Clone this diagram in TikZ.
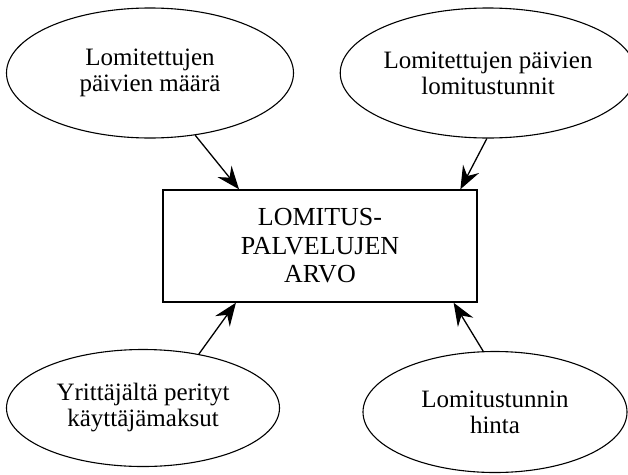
\documentclass[tikz,border=0pt]{standalone}
\usepackage{fontspec}
\setmainfont{Liberation Serif}
\usepackage{tikz}
\usetikzlibrary{shapes.geometric}
\usetikzlibrary{arrows.meta}

\begin{document}
\begin{tikzpicture}[x=1pt, y=-1pt,
    tekija/.style={ellipse, draw, line width=1.1pt, inner sep=0pt, align=center,
      font=\rmfamily\fontsize{25}{26}\selectfont},
    nuoli/.style={line width=1.3pt, -{Stealth[length=23pt, width=18pt, inset=8pt]}}]
  \useasboundingbox (0,0) rectangle (628,474);

  \node [tekija, minimum width=287, minimum height=130] (paivat)  at (150,73)
    {Lomitettujen\\päivien määrä};
  \node [tekija, minimum width=274, minimum height=130] (tunnit)  at (488,73)
    {Lomitettujen päivien\\lomitustunnit};
  \node [tekija, minimum width=273, minimum height=117] (maksut)  at (143,408)
    {Yrittäjältä perityt\\käyttäjämaksut};
  \node [tekija, minimum width=264, minimum height=121] (hinta)   at (495,412)
    {Lomitustunnin\\hinta};

  \node [draw, line width=1.4pt, minimum width=314, minimum height=112, align=center,
    font=\rmfamily\fontsize{26}{28.5}\selectfont] (arvo) at (320,246)
    {LOMITUS-\\PALVELUJEN\\ARVO};

  \draw [nuoli] (paivat.-54) -- (arvo.145.3);
  \draw [nuoli] (tunnit.-91) -- (arvo.22.2);
  \draw [nuoli] (maksut.44)  -- (arvo.214.2);
  \draw [nuoli] (hinta.101)  -- (arvo.-23.6);
\end{tikzpicture}
\end{document}
